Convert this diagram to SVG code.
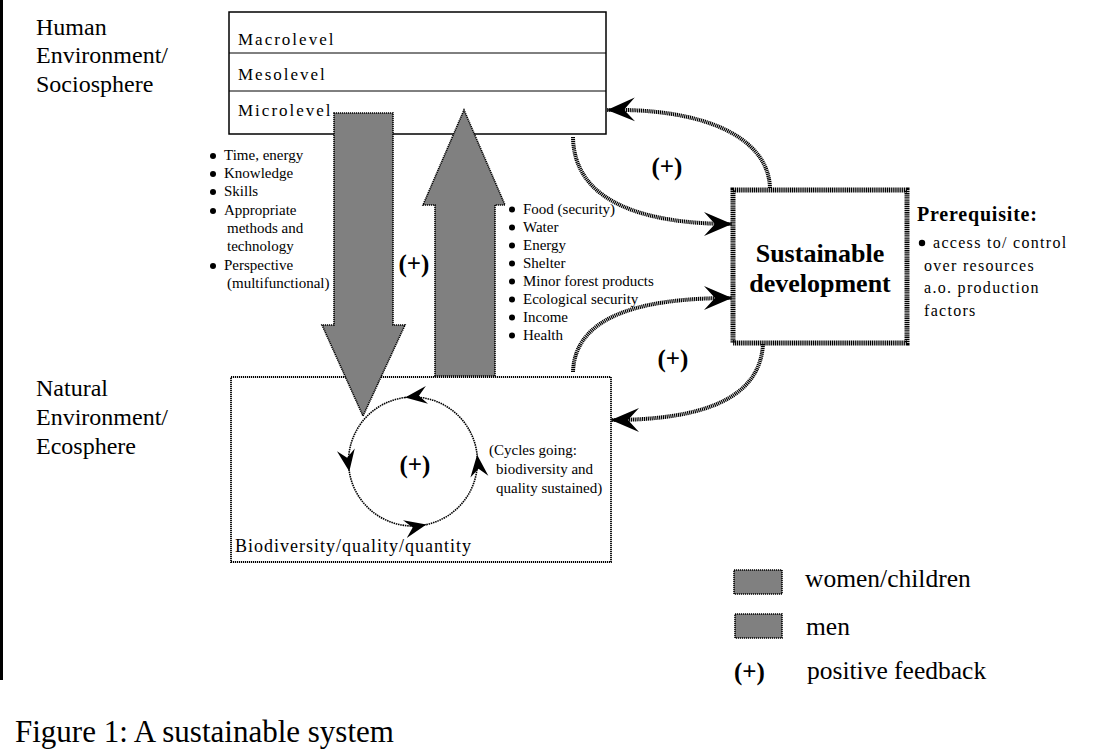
<svg xmlns="http://www.w3.org/2000/svg" width="1101" height="752" viewBox="0 0 1101 752">
<style>
text{font-family:"Liberation Serif","Times New Roman",serif;fill:#000}
.big{font-size:24px}
.lvl{font-size:17px;letter-spacing:2px}
.sm{font-size:15px}
.pre{font-size:16px;letter-spacing:1.3px}
.plus{font-size:25px;font-weight:bold}
.leg{font-size:25.5px}
.box{fill:#fff;stroke:#000;stroke-width:1.5}
.dotbox{fill:none;stroke:#000;stroke-width:1.8;stroke-dasharray:1.2 0.8}
.bigarrow{fill:#808080;stroke:#000;stroke-width:1.6;stroke-dasharray:1.2 0.8}
.curve{fill:none;stroke:#000;stroke-width:4;stroke-dasharray:1.2 0.7;marker-end:url(#barb)}
.cyc{fill:none;stroke:#000;stroke-width:1.6;stroke-dasharray:1.5 0.8;marker-end:url(#barbs)}
.sd{fill:#fff;stroke:#000;stroke-width:5;stroke-dasharray:1.2 0.7}
</style>
<defs>
<marker id="barb" markerUnits="userSpaceOnUse" viewBox="-28 -13 30 26" markerWidth="30" markerHeight="26" refX="0" refY="0" orient="auto">
<path d="M0,0 L-28,-12 L-17,0 L-28,12 Z" fill="#000"/>
</marker>
<marker id="barbs" markerUnits="userSpaceOnUse" viewBox="-22 -10 24 20" markerWidth="24" markerHeight="20" refX="0" refY="0" orient="auto">
<path d="M0,0 L-22,-9 L-14,0 L-22,9 Z" fill="#000"/>
</marker>
</defs>

<rect x="0" y="0" width="3" height="680" fill="#000"/>

<g id="human-label">
<text class="big" x="36" y="35">Human</text>
<text class="big" x="36" y="63">Environment/</text>
<text class="big" x="36" y="92">Sociosphere</text>
</g>
<g id="natural-label">
<text class="big" x="36" y="396">Natural</text>
<text class="big" x="36" y="425">Environment/</text>
<text class="big" x="36" y="454">Ecosphere</text>
</g>

<g id="sociosphere-box">
<rect class="box" x="229" y="12" width="377" height="122"/>
<line x1="229" y1="53" x2="606" y2="53" stroke="#000" stroke-width="1"/>
<line x1="229" y1="91" x2="606" y2="91" stroke="#000" stroke-width="1"/>
<text class="lvl" x="238" y="45">Macrolevel</text>
<text class="lvl" x="238" y="80">Mesolevel</text>
<text class="lvl" x="238" y="116">Microlevel</text>
</g>

<g id="ecosphere-box">
<rect class="dotbox" x="231" y="377" width="380" height="185"/>
<text x="235" y="552" style="font-size:18px;letter-spacing:1px">Biodiversity/quality/quantity</text>
</g>

<g id="women-arrow">
<path class="bigarrow" d="M334,113 L393,113 L393,325 L405,325 L363,416 L322,325 L334,325 Z"/>
</g>
<g id="men-arrow">
<path class="bigarrow" d="M435,376 L435,205 L423,205 L464,110 L505,205 L495,205 L495,376 Z"/>
</g>

<g id="inputs-list" class="sm">
<circle cx="213" cy="156" r="3"/><text x="224" y="160">Time, energy</text>
<circle cx="213" cy="174" r="3"/><text x="224" y="178">Knowledge</text>
<circle cx="213" cy="192" r="3"/><text x="224" y="196">Skills</text>
<circle cx="213" cy="211" r="3"/><text x="224" y="215">Appropriate</text>
<text x="227" y="233">methods and</text>
<text x="227" y="251">technology</text>
<circle cx="213" cy="266" r="3"/><text x="224" y="270">Perspective</text>
<text x="227" y="288">(multifunctional)</text>
</g>

<g id="outputs-list" class="sm">
<circle cx="512" cy="209.5" r="3"/><text x="523" y="214">Food (security)</text>
<circle cx="512" cy="227.5" r="3"/><text x="523" y="232">Water</text>
<circle cx="512" cy="245.5" r="3"/><text x="523" y="250">Energy</text>
<circle cx="512" cy="263.5" r="3"/><text x="523" y="268">Shelter</text>
<circle cx="512" cy="281.5" r="3"/><text x="523" y="286">Minor forest products</text>
<circle cx="512" cy="299.5" r="3"/><text x="523" y="304">Ecological security</text>
<circle cx="512" cy="317.5" r="3"/><text x="523" y="322">Income</text>
<circle cx="512" cy="335.5" r="3"/><text x="523" y="340">Health</text>
</g>

<text class="plus" x="414" y="272" text-anchor="middle">(+)</text>

<g id="sustainable-development">
<rect class="sd" x="733" y="190" width="174" height="153"/>
<text x="820" y="262" text-anchor="middle" style="font-size:26px;font-weight:bold">Sustainable</text>
<text x="820" y="292" text-anchor="middle" style="font-size:26px;font-weight:bold">development</text>
</g>

<g id="prerequisite">
<text x="917" y="221" style="font-size:20px;font-weight:bold;letter-spacing:0.8px">Prerequisite:</text>
<circle cx="922" cy="243" r="3.2"/>
<text class="pre" x="933" y="248">access to/ control</text>
<text class="pre" x="924" y="271">over resources</text>
<text class="pre" x="924" y="293">a.o. production</text>
<text class="pre" x="924" y="316">factors</text>
</g>

<g id="connectors">
<path class="curve" d="M770,188 C768,135 700,108 607,110"/>
<path class="curve" d="M573,137 C574,205 650,224 732,224"/>
<path class="curve" d="M573,372 C575,312 650,298 732,298"/>
<path class="curve" d="M763,344 C760,400 700,420 611,420"/>
<path class="cyc" d="M477.1,454.8 A64.5,64.5 0 0 0 405.1,397.5"/>
<path class="cyc" d="M405.1,397.5 A64.5,64.5 0 0 0 349.3,471.6"/>
<path class="cyc" d="M349.3,471.6 A64.5,64.5 0 0 0 426.4,524.6"/>
<path class="cyc" d="M426.4,524.6 A64.5,64.5 0 0 0 477.1,454.8"/>
</g>

<text class="plus" x="667" y="175" text-anchor="middle">(+)</text>
<text class="plus" x="673" y="367" text-anchor="middle">(+)</text>
<text class="plus" x="415" y="473" text-anchor="middle">(+)</text>

<g id="cycles-note" class="sm">
<text x="489" y="455">(Cycles going:</text>
<text x="496" y="474">biodiversity and</text>
<text x="496" y="493">quality sustained)</text>
</g>

<g id="legend">
<rect class="bigarrow" x="734" y="570" width="48" height="24"/>
<text class="leg" x="805" y="587">women/children</text>
<rect class="bigarrow" x="735" y="614" width="47" height="24"/>
<text class="leg" x="806" y="635">men</text>
<text class="plus" x="749.5" y="680" text-anchor="middle">(+)</text>
<text class="leg" x="807" y="679">positive feedback</text>
</g>

<text id="caption" x="15" y="742" style="font-size:31px">Figure 1: A sustainable system</text>
</svg>
